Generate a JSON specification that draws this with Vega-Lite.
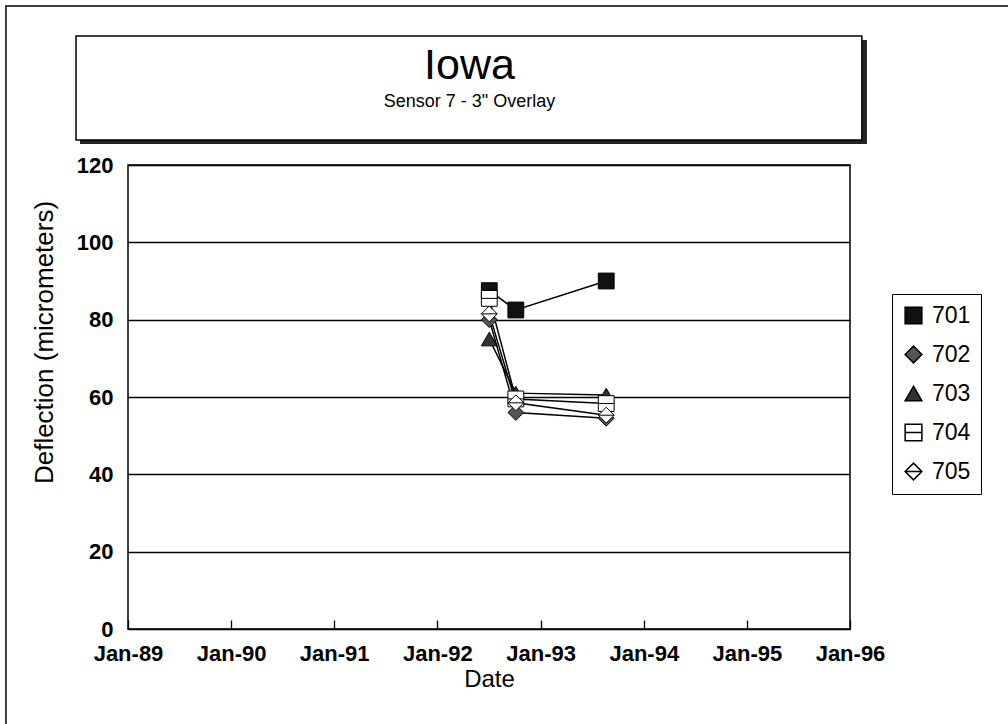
{
  "$schema": "https://vega.github.io/schema/vega-lite/v6.json",
  "width": 722,
  "height": 464,
  "autosize": {"type": "none"},
  "padding": {"left": 128, "top": 165, "right": 158, "bottom": 95},
  "background": "white",
  "config": {
    "font": "Liberation Sans",
    "view": {"stroke": "black", "strokeWidth": 1.5},
    "axisX": {
      "grid": false,
      "domain": false,
      "ticks": true,
      "tickSize": -9,
      "tickColor": "black",
      "tickWidth": 1.3,
      "tickOpacity": 1,
      "labelPadding": 40,
      "labelBaseline": "alphabetic",
      "labelFontSize": 22,
      "labelFontWeight": "bold",
      "labelColor": "black",
      "labelFlush": false,
      "labelOverlap": false,
      "titleFontSize": 24,
      "titleFontWeight": "normal",
      "titleColor": "black",
      "titleBaseline": "alphabetic",
      "titleY": 57,
      "zindex": 1
    },
    "axisY": {
      "grid": true,
      "gridColor": "black",
      "gridWidth": 1.3,
      "gridOpacity": 1,
      "ticks": false,
      "domain": false,
      "labelPadding": 15,
      "labelFontSize": 22,
      "labelFontWeight": "bold",
      "labelColor": "black",
      "labelBaseline": "middle",
      "labelFlush": false,
      "titleFontSize": 26,
      "titleFontWeight": "normal",
      "titleColor": "black",
      "titleAngle": -90,
      "titleAlign": "center",
      "titleBaseline": "middle",
      "titleX": -84,
      "titleY": 177
    }
  },
  "title": {
    "text": "Iowa",
    "subtitle": "Sensor 7 - 3\" Overlay",
    "anchor": "middle",
    "frame": "group",
    "dx": -19.5,
    "offset": -106,
    "fontSize": 43,
    "fontWeight": "normal",
    "color": "black",
    "subtitleFontSize": 18,
    "subtitleColor": "black",
    "subtitlePadding": 5,
    "subtitleFont": "Liberation Sans"
  },
  "datasets": {
    "series": [
      {"series": "701", "date": "1992-07-03", "value": 87.5},
      {"series": "701", "date": "1992-10-05", "value": 82.5},
      {"series": "701", "date": "1993-08-21", "value": 90},
      {"series": "702", "date": "1992-07-03", "value": 80},
      {"series": "702", "date": "1992-10-05", "value": 56},
      {"series": "702", "date": "1993-08-21", "value": 54.5},
      {"series": "703", "date": "1992-07-03", "value": 75},
      {"series": "703", "date": "1992-10-05", "value": 61},
      {"series": "703", "date": "1993-08-21", "value": 60.5},
      {"series": "704", "date": "1992-07-03", "value": 85.5},
      {"series": "704", "date": "1992-10-05", "value": 59.5},
      {"series": "704", "date": "1993-08-21", "value": 58.3},
      {"series": "705", "date": "1992-07-03", "value": 81.5},
      {"series": "705", "date": "1992-10-05", "value": 58.5},
      {"series": "705", "date": "1993-08-21", "value": 55.3}
    ],
    "deco": [
      {"kind": "border", "x1": "1987-10-27", "x2": "1997-07-28", "y1": 161.1, "y2": -26.1},
      {"kind": "titleshadow", "x1": "1988-07-15", "x2": "1996-03-01", "y1": 152.3, "y2": 125.4},
      {"kind": "titlebox", "x1": "1988-07-01", "x2": "1996-02-12", "y1": 153.35, "y2": 126.45},
      {"kind": "legendshadow", "x1": "1996-06-12", "x2": "1997-03-28", "y1": 85.6, "y2": 35.2}
    ]
  },
  "layer": [
    {
      "data": {"name": "series"},
      "mark": {"type": "line", "color": "black", "strokeWidth": 1.5},
      "encoding": {
        "x": {
          "field": "date",
          "type": "temporal",
          "title": "Date",
          "scale": {"type": "utc", "domain": [{"year": 1989, "month": 1, "date": 1, "utc": true}, {"year": 1996, "month": 1, "date": 1, "utc": true}], "nice": false},
          "axis": {
            "title": "Date",
            "values": [
              {"year": 1989, "month": 1, "date": 1, "utc": true},
              {"year": 1990, "month": 1, "date": 1, "utc": true},
              {"year": 1991, "month": 1, "date": 1, "utc": true},
              {"year": 1992, "month": 1, "date": 1, "utc": true},
              {"year": 1993, "month": 1, "date": 1, "utc": true},
              {"year": 1994, "month": 1, "date": 1, "utc": true},
              {"year": 1995, "month": 1, "date": 1, "utc": true},
              {"year": 1996, "month": 1, "date": 1, "utc": true}
            ],
            "format": "%b-%y",
            "tickSize": -9
          }
        },
        "y": {
          "field": "value",
          "type": "quantitative",
          "title": "Deflection (micrometers)",
          "scale": {"domain": [0, 120], "nice": false, "zero": true},
          "axis": {"title": "Deflection (micrometers)", "values": [0, 20, 40, 60, 80, 100, 120]}
        },
        "detail": {"field": "series", "type": "nominal"}
      }
    },
    {
      "data": {"name": "series"},
      "mark": {"type": "point", "strokeWidth": 1, "opacity": 1, "size": 250},
      "encoding": {
        "x": {
          "field": "date",
          "type": "temporal",
          "title": "Date",
          "axis": {
            "title": "Date",
            "values": [
              {"year": 1989, "month": 1, "date": 1, "utc": true},
              {"year": 1990, "month": 1, "date": 1, "utc": true},
              {"year": 1991, "month": 1, "date": 1, "utc": true},
              {"year": 1992, "month": 1, "date": 1, "utc": true},
              {"year": 1993, "month": 1, "date": 1, "utc": true},
              {"year": 1994, "month": 1, "date": 1, "utc": true},
              {"year": 1995, "month": 1, "date": 1, "utc": true},
              {"year": 1996, "month": 1, "date": 1, "utc": true}
            ],
            "format": "%b-%y",
            "tickSize": -9
          }
        },
        "y": {
          "field": "value",
          "type": "quantitative",
          "title": "Deflection (micrometers)",
          "axis": {"title": "Deflection (micrometers)", "values": [0, 20, 40, 60, 80, 100, 120]}
        },
        "shape": {
          "field": "series",
          "type": "nominal",
          "scale": {
            "domain": ["701", "702", "703", "704", "705"],
            "range": ["square", "diamond", "triangle-up", "M-1,-1H1V1H-1ZM-1,0H1", "M0,-1L1,0L0,1L-1,0ZM-1,0H1"]
          },
          "legend": {
            "title": null,
            "orient": "none",
            "legendX": 764,
            "legendY": 129,
            "strokeColor": "black",
            "fillColor": "white",
            "padding": 10,
            "labelFontSize": 23,
            "labelColor": "black",
            "labelOffset": 7,
            "symbolSize": 280,
            "rowPadding": 15
          }
        },
        "fill": {
          "field": "series",
          "type": "nominal",
          "scale": {
            "domain": ["701", "702", "703", "704", "705"],
            "range": ["#111111", "#555555", "#333333", "#ffffff", "#ffffff"]
          },
          "legend": {
            "title": null,
            "orient": "none",
            "legendX": 764,
            "legendY": 129,
            "strokeColor": "black",
            "fillColor": "white",
            "padding": 10,
            "labelFontSize": 23,
            "labelColor": "black",
            "labelOffset": 7,
            "symbolSize": 280,
            "rowPadding": 15
          }
        },
        "stroke": {
          "field": "series",
          "type": "nominal",
          "scale": {
            "domain": ["701", "702", "703", "704", "705"],
            "range": ["#000000", "#000000", "#000000", "#000000", "#000000"]
          },
          "legend": {
            "title": null,
            "orient": "none",
            "legendX": 764,
            "legendY": 129,
            "strokeColor": "black",
            "fillColor": "white",
            "padding": 10,
            "labelFontSize": 23,
            "labelColor": "black",
            "labelOffset": 7,
            "symbolSize": 280,
            "rowPadding": 15
          }
        }
      }
    },
    {
      "data": {"name": "deco"},
      "transform": [{"filter": "datum.kind === 'border'"}],
      "mark": {"type": "rect", "fillOpacity": 0, "stroke": "black", "strokeWidth": 1.5},
      "encoding": {
        "x": {
          "field": "x1",
          "type": "temporal",
          "title": "Date",
          "axis": {
            "title": "Date",
            "values": [
              {"year": 1989, "month": 1, "date": 1, "utc": true},
              {"year": 1990, "month": 1, "date": 1, "utc": true},
              {"year": 1991, "month": 1, "date": 1, "utc": true},
              {"year": 1992, "month": 1, "date": 1, "utc": true},
              {"year": 1993, "month": 1, "date": 1, "utc": true},
              {"year": 1994, "month": 1, "date": 1, "utc": true},
              {"year": 1995, "month": 1, "date": 1, "utc": true},
              {"year": 1996, "month": 1, "date": 1, "utc": true}
            ],
            "format": "%b-%y",
            "tickSize": -9
          }
        },
        "x2": {"field": "x2"},
        "y": {
          "field": "y1",
          "type": "quantitative",
          "title": "Deflection (micrometers)",
          "axis": {"title": "Deflection (micrometers)", "values": [0, 20, 40, 60, 80, 100, 120]}
        },
        "y2": {"field": "y2"}
      }
    },
    {
      "data": {"name": "deco"},
      "transform": [{"filter": "datum.kind === 'titleshadow' || datum.kind === 'legendshadow'"}],
      "mark": {"type": "rect", "fill": "#222222"},
      "encoding": {
        "x": {
          "field": "x1",
          "type": "temporal",
          "title": "Date",
          "axis": {
            "title": "Date",
            "values": [
              {"year": 1989, "month": 1, "date": 1, "utc": true},
              {"year": 1990, "month": 1, "date": 1, "utc": true},
              {"year": 1991, "month": 1, "date": 1, "utc": true},
              {"year": 1992, "month": 1, "date": 1, "utc": true},
              {"year": 1993, "month": 1, "date": 1, "utc": true},
              {"year": 1994, "month": 1, "date": 1, "utc": true},
              {"year": 1995, "month": 1, "date": 1, "utc": true},
              {"year": 1996, "month": 1, "date": 1, "utc": true}
            ],
            "format": "%b-%y",
            "tickSize": -9
          }
        },
        "x2": {"field": "x2"},
        "y": {
          "field": "y1",
          "type": "quantitative",
          "title": "Deflection (micrometers)",
          "axis": {"title": "Deflection (micrometers)", "values": [0, 20, 40, 60, 80, 100, 120]}
        },
        "y2": {"field": "y2"}
      }
    },
    {
      "data": {"name": "deco"},
      "transform": [{"filter": "datum.kind === 'titlebox'"}],
      "mark": {"type": "rect", "fill": "white", "stroke": "black", "strokeWidth": 1.5},
      "encoding": {
        "x": {
          "field": "x1",
          "type": "temporal",
          "title": "Date",
          "axis": {
            "title": "Date",
            "values": [
              {"year": 1989, "month": 1, "date": 1, "utc": true},
              {"year": 1990, "month": 1, "date": 1, "utc": true},
              {"year": 1991, "month": 1, "date": 1, "utc": true},
              {"year": 1992, "month": 1, "date": 1, "utc": true},
              {"year": 1993, "month": 1, "date": 1, "utc": true},
              {"year": 1994, "month": 1, "date": 1, "utc": true},
              {"year": 1995, "month": 1, "date": 1, "utc": true},
              {"year": 1996, "month": 1, "date": 1, "utc": true}
            ],
            "format": "%b-%y",
            "tickSize": -9
          }
        },
        "x2": {"field": "x2"},
        "y": {
          "field": "y1",
          "type": "quantitative",
          "title": "Deflection (micrometers)",
          "axis": {"title": "Deflection (micrometers)", "values": [0, 20, 40, 60, 80, 100, 120]}
        },
        "y2": {"field": "y2"}
      }
    }
  ]
}
